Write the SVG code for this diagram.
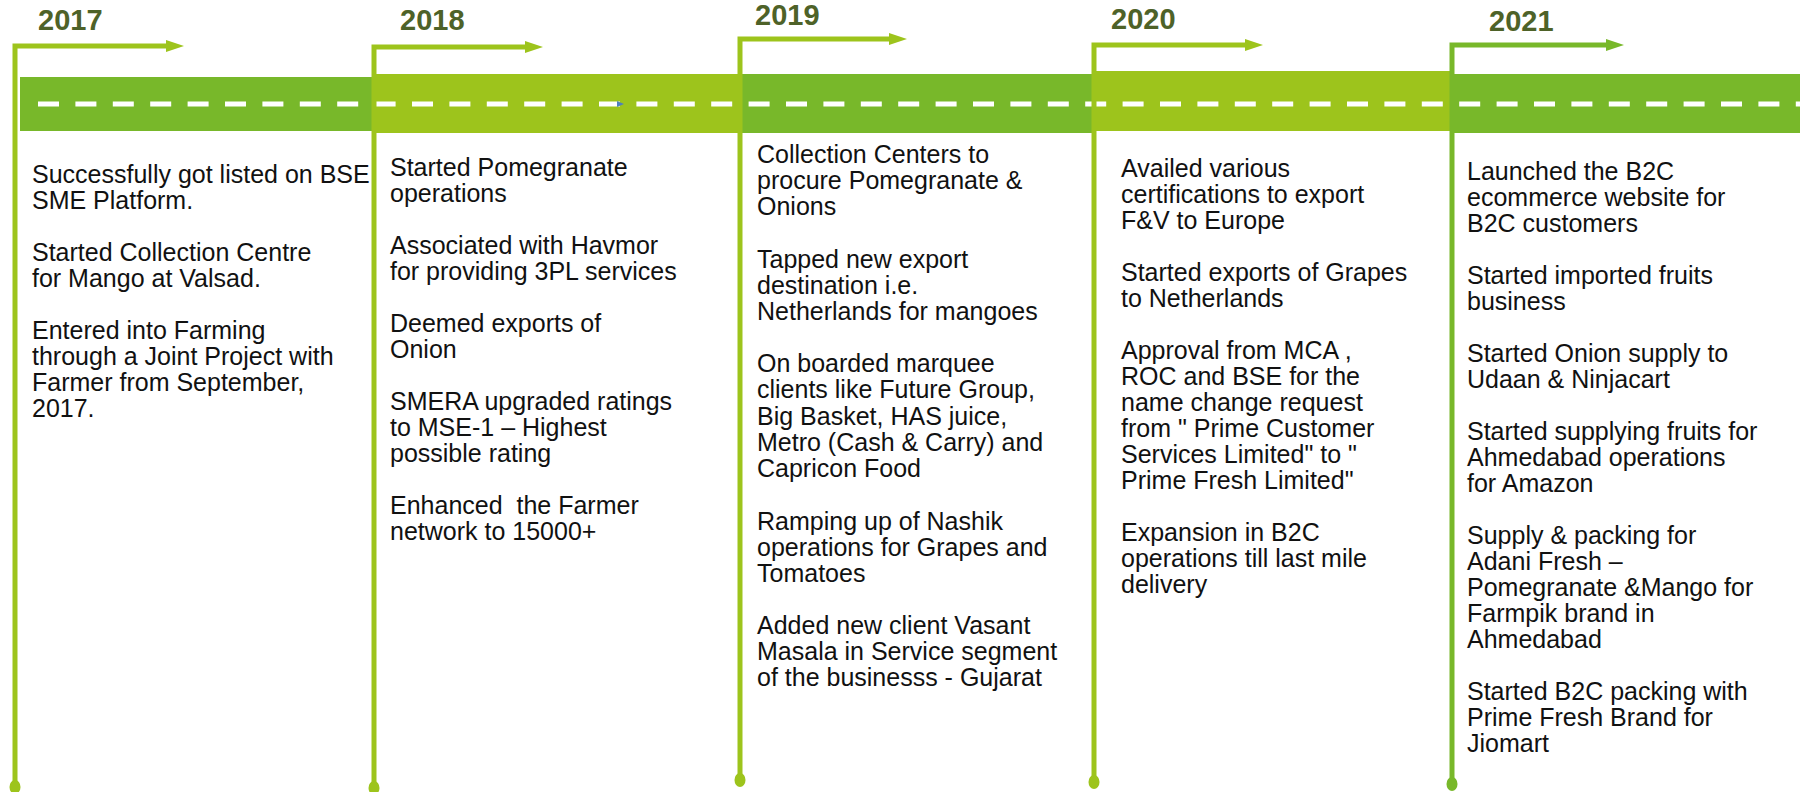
<svg xmlns="http://www.w3.org/2000/svg" width="1804" height="792" viewBox="0 0 1804 792">
<style>
.bg{fill:#ffffff}
.dk{fill:#78b82a}
.lt{fill:#9dc41c}
.sdk{stroke:#78b82a;fill:none;stroke-width:5}
.slt{stroke:#9dc41c;fill:none;stroke-width:5}
.yr{font-family:"Liberation Sans",Arial,sans-serif;font-weight:bold;font-size:29px;fill:#4e6228}
.tx{font-family:"Liberation Sans",Arial,sans-serif;font-size:25px;fill:#111111}
.dash{stroke:#ffffff;stroke-width:5;stroke-dasharray:21 16.4;fill:none}
</style>
<rect class="bg" x="0" y="0" width="1804" height="792"/>

<g id="road">
  <rect class="dk" x="20" y="77" width="354" height="54"/>
  <rect class="lt" x="374" y="74" width="366" height="59"/>
  <rect class="dk" x="740" y="74" width="354" height="59"/>
  <rect class="lt" x="1094" y="71" width="358" height="60"/>
  <rect class="dk" x="1452" y="74" width="348" height="59"/>
  <line class="dash" x1="38" y1="104" x2="1800" y2="104"/>
  <polygon points="617,101 624,104 617,107" fill="#4f81bd"/>
</g>

<g id="connectors">
  <path class="slt" d="M15,787 V46 H168"/>
  <polygon class="lt" points="166,40 184,46 166,52"/>
  <ellipse class="lt" cx="15" cy="787" rx="5.5" ry="7"/>

  <path class="slt" d="M374,788 V47 H527"/>
  <polygon class="lt" points="525,41 543,47 525,53"/>
  <ellipse class="lt" cx="374" cy="788" rx="5.5" ry="7"/>

  <path class="slt" d="M740,780 V39 H891"/>
  <polygon class="lt" points="889,33 907,39 889,45"/>
  <ellipse class="lt" cx="740" cy="780" rx="5.5" ry="7"/>

  <path class="slt" d="M1094,782 V45 H1247"/>
  <polygon class="lt" points="1245,39 1263,45 1245,51"/>
  <ellipse class="lt" cx="1094" cy="782" rx="5.5" ry="7"/>

  <path class="sdk" d="M1452,784 V45 H1608"/>
  <polygon class="dk" points="1606,39 1624,45 1606,51"/>
  <ellipse class="dk" cx="1452" cy="784" rx="5.5" ry="7"/>
</g>

<g id="y2017">
  <text class="yr" x="38" y="30">2017</text>
  <text class="tx">
    <tspan x="32" y="183">Successfully got listed on BSE</tspan>
    <tspan x="32" y="209">SME Platform.</tspan>
    <tspan x="32" y="261">Started Collection Centre</tspan>
    <tspan x="32" y="287">for Mango at Valsad.</tspan>
    <tspan x="32" y="339">Entered into Farming</tspan>
    <tspan x="32" y="365">through a Joint Project with</tspan>
    <tspan x="32" y="391">Farmer from September,</tspan>
    <tspan x="32" y="417">2017.</tspan>
  </text>
</g>

<g id="y2018">
  <text class="yr" x="400" y="30">2018</text>
  <text class="tx">
    <tspan x="390" y="176">Started Pomegranate</tspan>
    <tspan x="390" y="202">operations</tspan>
    <tspan x="390" y="254">Associated with Havmor</tspan>
    <tspan x="390" y="280">for providing 3PL services</tspan>
    <tspan x="390" y="332">Deemed exports of</tspan>
    <tspan x="390" y="358">Onion</tspan>
    <tspan x="390" y="410">SMERA upgraded ratings</tspan>
    <tspan x="390" y="436">to MSE-1 – Highest</tspan>
    <tspan x="390" y="462">possible rating</tspan>
    <tspan x="390" y="514" xml:space="preserve" style="white-space:pre">Enhanced  the Farmer</tspan>
    <tspan x="390" y="540">network to 15000+</tspan>
  </text>
</g>

<g id="y2019">
  <text class="yr" x="755" y="25">2019</text>
  <text class="tx">
    <tspan x="757" y="163">Collection Centers to</tspan>
    <tspan x="757" y="189">procure Pomegranate &amp;</tspan>
    <tspan x="757" y="215">Onions</tspan>
    <tspan x="757" y="268">Tapped new export</tspan>
    <tspan x="757" y="294">destination i.e.</tspan>
    <tspan x="757" y="320">Netherlands for mangoes</tspan>
    <tspan x="757" y="372">On boarded marquee</tspan>
    <tspan x="757" y="398">clients like Future Group,</tspan>
    <tspan x="757" y="425">Big Basket, HAS juice,</tspan>
    <tspan x="757" y="451">Metro (Cash &amp; Carry) and</tspan>
    <tspan x="757" y="477">Capricon Food</tspan>
    <tspan x="757" y="530">Ramping up of Nashik</tspan>
    <tspan x="757" y="556">operations for Grapes and</tspan>
    <tspan x="757" y="582">Tomatoes</tspan>
    <tspan x="757" y="634">Added new client Vasant</tspan>
    <tspan x="757" y="660">Masala in Service segment</tspan>
    <tspan x="757" y="686">of the businesss - Gujarat</tspan>
  </text>
</g>

<g id="y2020">
  <text class="yr" x="1111" y="29">2020</text>
  <text class="tx">
    <tspan x="1121" y="177">Availed various</tspan>
    <tspan x="1121" y="203">certifications to export</tspan>
    <tspan x="1121" y="229">F&amp;V to Europe</tspan>
    <tspan x="1121" y="281">Started exports of Grapes</tspan>
    <tspan x="1121" y="307">to Netherlands</tspan>
    <tspan x="1121" y="359">Approval from MCA ,</tspan>
    <tspan x="1121" y="385">ROC and BSE for the</tspan>
    <tspan x="1121" y="411">name change request</tspan>
    <tspan x="1121" y="437">from " Prime Customer</tspan>
    <tspan x="1121" y="463">Services Limited" to "</tspan>
    <tspan x="1121" y="489">Prime Fresh Limited"</tspan>
    <tspan x="1121" y="541">Expansion in B2C</tspan>
    <tspan x="1121" y="567">operations till last mile</tspan>
    <tspan x="1121" y="593">delivery</tspan>
  </text>
</g>

<g id="y2021">
  <text class="yr" x="1489" y="31">2021</text>
  <text class="tx">
    <tspan x="1467" y="180">Launched the B2C</tspan>
    <tspan x="1467" y="206">ecommerce website for</tspan>
    <tspan x="1467" y="232">B2C customers</tspan>
    <tspan x="1467" y="284">Started imported fruits</tspan>
    <tspan x="1467" y="310">business</tspan>
    <tspan x="1467" y="362">Started Onion supply to</tspan>
    <tspan x="1467" y="388">Udaan &amp; Ninjacart</tspan>
    <tspan x="1467" y="440">Started supplying fruits for</tspan>
    <tspan x="1467" y="466">Ahmedabad operations</tspan>
    <tspan x="1467" y="492">for Amazon</tspan>
    <tspan x="1467" y="544">Supply &amp; packing for</tspan>
    <tspan x="1467" y="570">Adani Fresh –</tspan>
    <tspan x="1467" y="596">Pomegranate &amp;Mango for</tspan>
    <tspan x="1467" y="622">Farmpik brand in</tspan>
    <tspan x="1467" y="648">Ahmedabad</tspan>
    <tspan x="1467" y="700">Started B2C packing with</tspan>
    <tspan x="1467" y="726">Prime Fresh Brand for</tspan>
    <tspan x="1467" y="752">Jiomart</tspan>
  </text>
</g>
</svg>
